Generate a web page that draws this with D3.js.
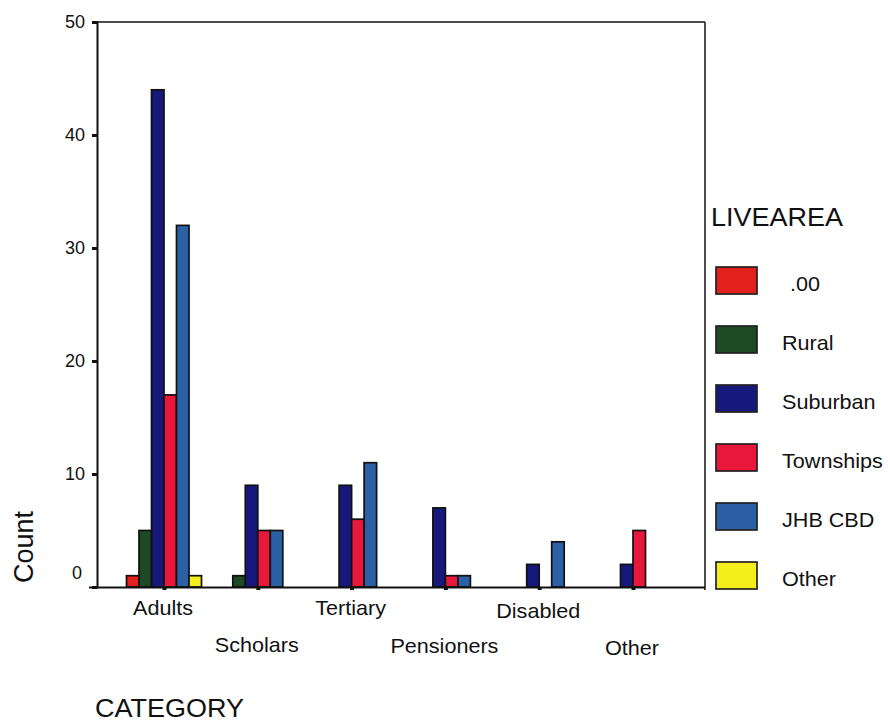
<!DOCTYPE html>
<html><head><meta charset="utf-8">
<script src="https://cdn.jsdelivr.net/npm/d3@7"></script>
<style>body{margin:0;background:#fff}svg{display:block;font-family:Arial,"Liberation Sans",sans-serif}</style>
</head><body><svg id="c" width="890" height="723"></svg>
<script>
const categories = ["Adults","Scholars","Tertiary","Pensioners","Disabled","Other"];
const series = [".00","Rural","Suburban","Townships","JHB CBD","Other"];
const colors = ["#e3201c","#1d4a22","#16187c","#e8173c","#2b60a4","#f4ef1c"];
const vDot00     = [1,0,0,0,0,0];
const vRural     = [5,1,0,0,0,0];
const vSuburban  = [44,9,9,7,2,2];
const vTownships = [17,5,6,1,0,5];
const vJHB       = [32,5,11,1,4,0];
const vOther     = [1,0,0,0,0,0];
const values = [vDot00,vRural,vSuburban,vTownships,vJHB,vOther];
const yTicks = [0,10,20,30,40,50];

const svg = d3.select("#c");
const pLeft = 97, pRight = 705, pTop = 22, pBase = 587;
const y = d3.scaleLinear().domain([0,50]).range([pBase, pTop]);
const x = d3.scalePoint().domain(categories).range([164, 633]);
const xs = d3.scaleBand().domain(series).range([-37.5, 37.5]).padding(0);
const SX = 1.08;

function addText(px, py, str, size, anchor){
  return svg.append("text").attr("transform",`translate(${px},${py}) scale(${SX},1)`)
    .attr("text-anchor",anchor||"start").attr("font-size",size).attr("fill","#111").text(str);
}

// frame
svg.append("line").attr("x1",pLeft).attr("x2",pRight).attr("y1",pTop).attr("y2",pTop).attr("stroke","#111").attr("stroke-width",1.5);
svg.append("line").attr("x1",pRight).attr("x2",pRight).attr("y1",pTop).attr("y2",pBase+3).attr("stroke","#111").attr("stroke-width",1.5);

// bars
const g = svg.append("g");
series.forEach((s,si)=>{
  categories.forEach((c,ci)=>{
    const v = values[si][ci];
    if (v<=0) return;
    g.append("rect")
      .attr("x", x(c)+xs(s)).attr("width", xs.bandwidth())
      .attr("y", y(v)).attr("height", y(0)-y(v))
      .attr("fill", colors[si]).attr("stroke","#111").attr("stroke-width",1.7);
  });
});

// y axis
const ya = d3.axisLeft(y).tickValues(yTicks).tickSize(5).tickPadding(7).tickFormat(d3.format("d"));
const yg = svg.append("g").attr("transform",`translate(${pLeft},0)`).call(ya);
yg.select(".domain").attr("stroke","#111").attr("stroke-width",2);
yg.selectAll(".tick line").attr("stroke","#111").attr("stroke-width",3);
yg.selectAll(".tick text").attr("font-size",18).attr("fill","#111")
  .attr("font-family","Arial, 'Liberation Sans', sans-serif")
  .attr("y", d => d===0 ? -14 : 0)
  .attr("dx", d => d===0 ? -3 : 0);

// x axis baseline
const xa = d3.axisBottom(x).tickSize(3).tickFormat("");
const xg = svg.append("g").attr("transform",`translate(0,${pBase})`).call(xa);
xg.select(".domain").attr("d",`M${pLeft-8},0.5H${pRight}`).attr("stroke","#111").attr("stroke-width",2);
xg.selectAll(".tick line").attr("stroke","#111").attr("stroke-width",4);
const labelY = [615, 652, 615, 653, 618, 655];
categories.forEach((c,i)=>{
  addText(x(c)-1, labelY[i], c, 20, "middle");
});

// axis titles
svg.append("text").attr("transform","translate(33,547) rotate(-90)").attr("text-anchor","middle")
  .attr("font-size",27).attr("fill","#111").text("Count");
addText(95, 717, "CATEGORY", 25, "start");

// legend
addText(711, 226, "LIVEAREA", 25, "start");
const legY = d3.scalePoint().domain(series).range([267, 562]);
series.forEach((s,i)=>{
  svg.append("rect").attr("x",716).attr("y",legY(s)).attr("width",41).attr("height",27)
    .attr("fill",colors[i]).attr("stroke","#222").attr("stroke-width",1.7);
  addText(i===0 ? 790 : 782, legY(s)+24, s, 20, "start");
});
</script></body></html>
